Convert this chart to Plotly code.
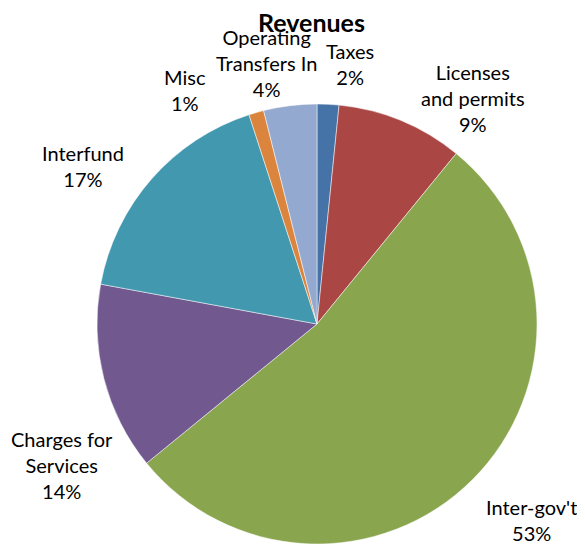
import plotly.graph_objects as go

categories = ["Taxes", "Licenses and permits", "Inter-gov't", "Charges for Services",
              "Interfund", "Misc", "Operating Transfers In"]
values = [1.6, 9.3, 53.2, 13.8, 17.1, 1.1, 3.9]
colors = ["#4572A7", "#AA4643", "#89A54E", "#71588F", "#4198AF", "#DB843D", "#93A9CF"]
display_names = {
    "Licenses and permits": "Licenses<br>and permits",
    "Charges for Services": "Charges for<br>Services",
    "Operating Transfers In": "Operating<br>Transfers In",
}
# label centre positions in page pixels (x, y from top)
label_pos = {
    "Taxes": (350, 64),
    "Licenses and permits": (473, 98),
    "Inter-gov't": (531, 520),
    "Charges for Services": (62, 465),
    "Interfund": (83, 166),
    "Misc": (185, 90),
    "Operating Transfers In": (266, 63),
}

OFF = 8  # default page body margin
W, H = 585 - OFF, 544 - OFF
cx, cy, r = 317 - OFF, 324 - OFF, 220
FONT = "Lato, 'Open Sans', sans-serif"

fig = go.Figure(go.Pie(
    labels=categories, values=values, sort=False, direction="clockwise", rotation=0,
    marker=dict(colors=colors, line=dict(color="white", width=0.5)),
    textinfo="none", hoverinfo="label+percent", showlegend=False,
    domain=dict(x=[(cx - r) / W, (cx + r) / W],
                y=[max(0, (H - cy - r) / H), min(1, (H - cy + r) / H)]),
))

total = sum(values)
for name, v in zip(categories, values):
    pct = int(v / total * 100 + 0.5)
    x, y = label_pos[name]
    fig.add_annotation(
        x=(x - OFF) / W, y=1 - (y - OFF) / H, xref="paper", yref="paper", showarrow=False,
        text=f"{display_names.get(name, name)}<br>{pct}%",
        xanchor="center", yanchor="middle", align="center",
        font=dict(family=FONT, size=20, color="black"),
    )

fig.add_annotation(
    x=(311 - OFF) / W, y=1 - (22 - OFF) / H, xref="paper", yref="paper", showarrow=False,
    text="<b>Revenues</b>", xanchor="center", yanchor="middle", borderpad=0,
    font=dict(family=FONT, size=25, color="black"),
)

fig.update_layout(
    width=W, height=H, margin=dict(l=0, r=0, t=0, b=0),
    paper_bgcolor="white", plot_bgcolor="white",
)
fig.write_html("out.html")
